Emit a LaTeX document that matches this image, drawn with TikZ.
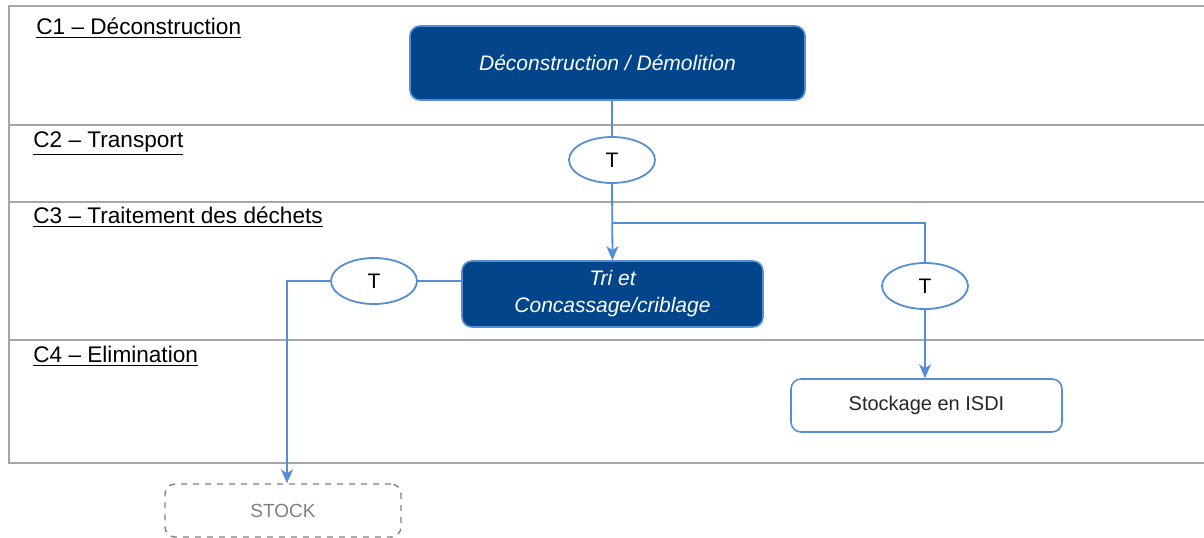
\documentclass[tikz,border=0pt]{standalone}
\usepackage{fontspec}
\setmainfont{Liberation Sans}
\usetikzlibrary{positioning,arrows.meta,shapes.geometric,calc}
\definecolor{darkblue}{HTML}{02458A}
\definecolor{flowblue}{HTML}{558ED5}
\definecolor{lanegray}{HTML}{A6A6A6}
\definecolor{stockgray}{HTML}{7F7F7F}
\tikzset{
  lane/.style={draw=lanegray, line width=1.2pt},
  lanelabel/.style={anchor=base west, font=\fontsize{11.3}{13}\selectfont, inner sep=0pt},
  procbox/.style={draw=flowblue, fill=darkblue, text=white, rounded corners=5pt,
    line width=0.8pt, font=\fontsize{10.5}{13.5}\selectfont\itshape, align=center},
  endbox/.style={draw=flowblue, fill=white, rounded corners=5pt, line width=0.8pt,
    font=\fontsize{10}{12}\selectfont, text=black!85},
  stockbox/.style={draw=stockgray, dashed, rounded corners=5pt, line width=0.7pt,
    font=\fontsize{9.5}{11}\selectfont, text=stockgray},
  transp/.style={ellipse, draw=flowblue, fill=white, line width=0.9pt, inner sep=0pt,
    minimum width=43pt, minimum height=23pt, font=\fontsize{10.5}{12}\selectfont},
  flow/.style={draw=flowblue, line width=0.9pt},
  flowarrow/.style={flow, -{Stealth[length=7pt,width=6pt,inset=2pt]}}
}
\begin{document}
\begin{tikzpicture}[x=0.5pt, y=-0.5pt]
  \useasboundingbox (0,0) rectangle (1204,537);

  % Lanes
  \draw[lane] (1204,6) -- (9,6) -- (9,463) -- (1204,463);
  \draw[lane] (9,125) -- (1204,125);
  \draw[lane] (9,202) -- (1204,202);
  \draw[lane] (9,340) -- (1204,340);

  % Lane labels
  \node[lanelabel] (c1) at (36,34) {\underline{C1 – Déconstruction}};
  \node[lanelabel] (c2) at (33,147) {\underline{C2 – Transport}};
  \node[lanelabel] (c3) at (33,223) {\underline{C3 – Traitement des déchets}};
  \node[lanelabel] (c4) at (33,362) {\underline{C4 – Elimination}};

  % Process boxes
  \node[procbox, minimum width=197.5pt, minimum height=37pt] (demol) at (607.5,63)
    {Déconstruction / Démolition};
  \node[procbox, minimum width=150.5pt, minimum height=33pt] (tri) at (612.5,294)
    {Tri et\\Concassage/criblage};
  \node[endbox, minimum width=135.5pt, minimum height=26.5pt] (isdi) at (926.5,405.5)
    {Stockage en ISDI};
  \node[stockbox, minimum width=118pt, minimum height=26.5pt] (stock) at (283,510.5)
    {STOCK};

  % Transport
  \node[transp] (t1) at (612,160) {T};
  \node[transp] (t2) at (374,281) {T};
  \node[transp] (t3) at (925,286) {T};

  % Connectors
  \coordinate (split) at (612,223);
  \coordinate (bend) at (287,281);
  \draw[flow] (demol.south -| t1.north) -- (t1.north);
  \draw[flowarrow] (t1.south) -- (tri.north);
  \draw[flow] (split) -| (t3.north);
  \draw[flowarrow] (t3.south) -- (isdi.north -| t3.south);
  \draw[flow] (t2.east -| tri.west) -- (t2.east);
  \draw[flowarrow] (t2.west) -- (bend) -- (bend |- stock.north);
\end{tikzpicture}
\end{document}
